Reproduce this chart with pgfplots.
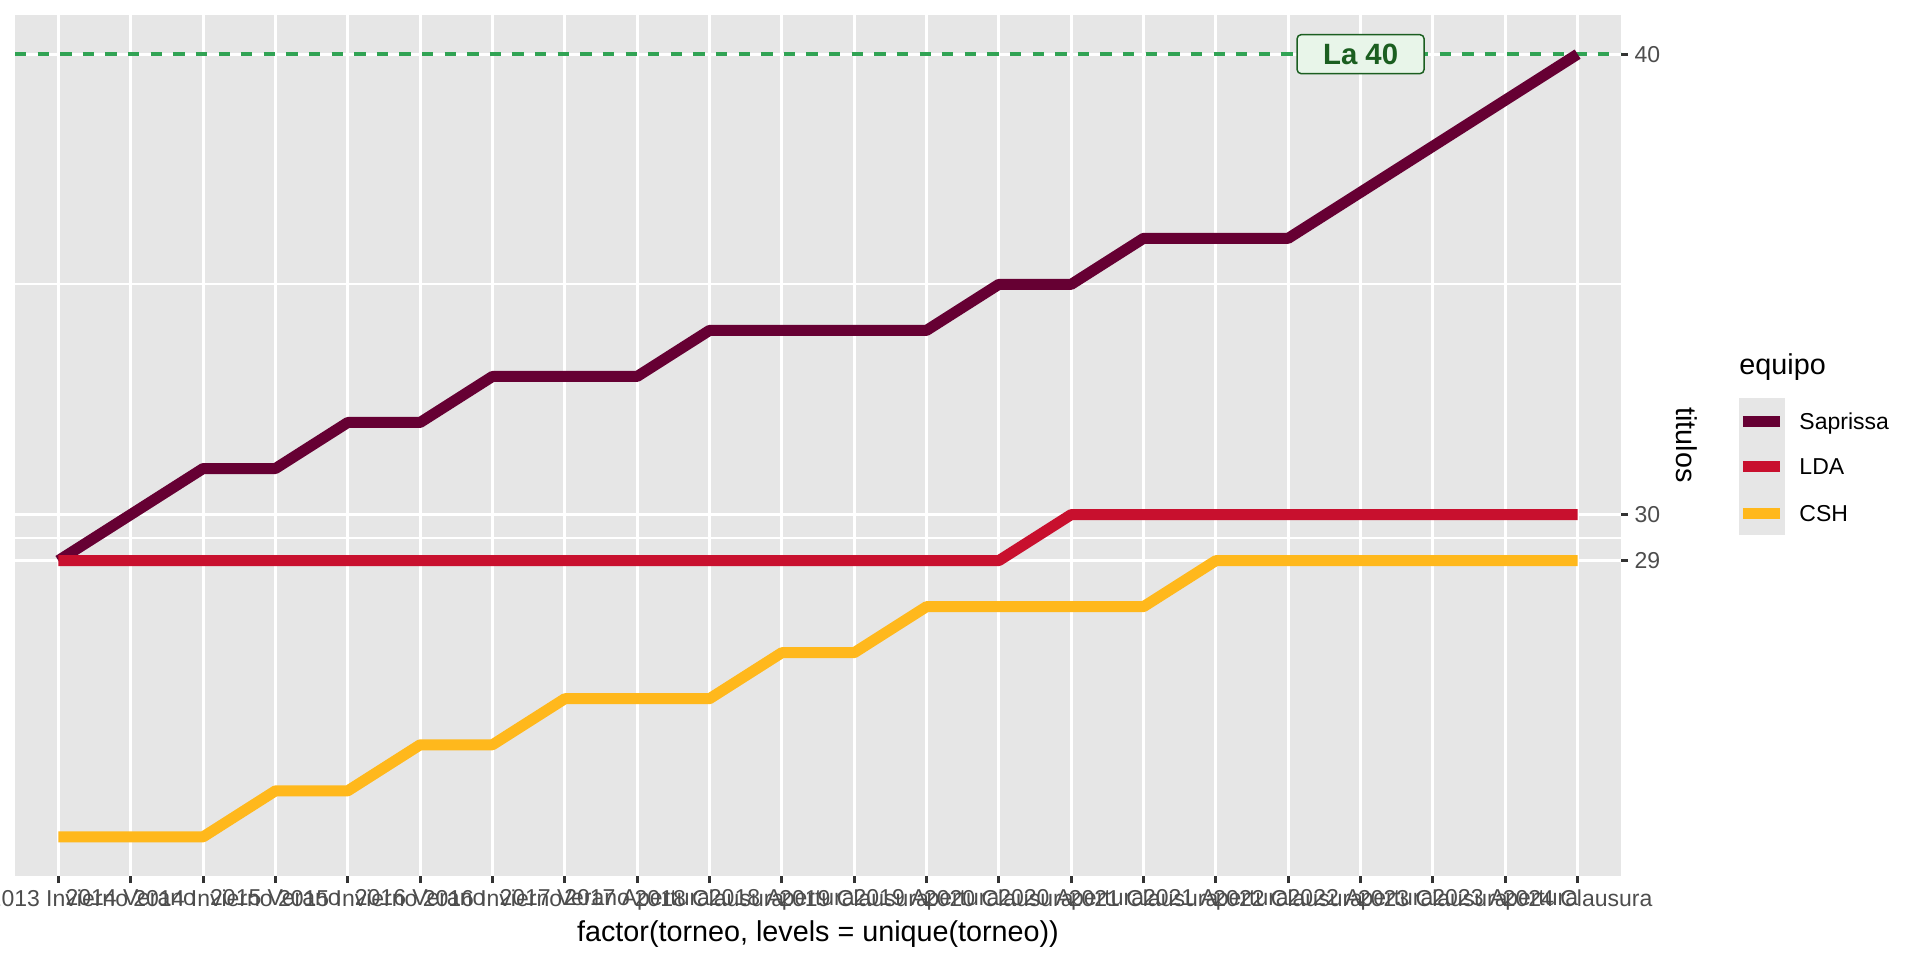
\documentclass[border=0pt]{standalone}
\usepackage{pgfplots}
\pgfplotsset{compat=1.18}
\usepackage{pgfplotstable}
\usepackage{fontspec}
\setmainfont{Liberation Sans}
\definecolor{sap}{HTML}{660033}
\definecolor{lda}{HTML}{C8102E}
\definecolor{csh}{HTML}{FFB81C}
\definecolor{panelbg}{HTML}{E6E6E6}
\definecolor{ticklab}{HTML}{4D4D4D}
\definecolor{tickcol}{HTML}{333333}
\definecolor{dashgreen}{HTML}{31A354}
\definecolor{labgreen}{HTML}{1B5E20}
\definecolor{labfill}{HTML}{E8F5E9}

\pgfplotstableread{
x sap lda csh
0 29 29 23
1 30 29 23
2 31 29 23
3 31 29 24
4 32 29 24
5 32 29 25
6 33 29 25
7 33 29 26
8 33 29 26
9 34 29 26
10 34 29 27
11 34 29 27
12 34 29 28
13 35 29 28
14 35 30 28
15 36 30 28
16 36 30 29
17 36 30 29
18 37 30 29
19 38 30 29
20 39 30 29
21 40 30 29
}\datatable

\begin{document}
\begin{tikzpicture}
\begin{axis}[
  at={(5.625pt,31.5pt)}, anchor=south west,
  width=602.25pt, height=322.875pt, scale only axis,
  xmin=-0.6, xmax=21.6, ymin=22.15, ymax=40.85,
  axis background/.style={fill=panelbg},
  axis line style={draw=none},
  xtick={0,...,21},
  xticklabels={2013 Invierno,2014 Verano,2014 Invierno,2015 Verano,2015 Invierno,2016 Verano,2016 Invierno,2017 Verano,2017 Apertura,2018 Clausura,2018 Apertura,2019 Clausura,2019 Apertura,2020 Clausura,2020 Apertura,2021 Clausura,2021 Apertura,2022 Clausura,2022 Apertura,2023 Clausura,2023 Apertura,2024 Clausura},
  ytick={29,30,40}, yticklabels={29,30,40},
  minor ytick={29.5,35},
  xmajorgrids, ymajorgrids, yminorgrids,
  major grid style={white, line width=1.1pt},
  minor grid style={white, line width=0.7pt},
  tick align=outside,
  major tick length=2.625pt,
  minor tick length=0pt,
  minor tick style={draw=none},
  xtick pos=left, ytick pos=right,
  xticklabel pos=left, yticklabel pos=right,
  tick style={tickcol, line width=1.1pt},
  xticklabel style={font=\fontsize{8.625}{9}\selectfont, text=ticklab, anchor=north, inner sep=0pt, yshift=-2.25pt},
  yticklabel style={font=\fontsize{8.625}{9}\selectfont, text=ticklab, anchor=west, inner sep=0pt, xshift=2.25pt},
]
\addplot[dashgreen, line width=1.25pt, dash pattern=on 4.24pt off 4.24pt] coordinates {(-0.6,40) (21.6,40)};
\addplot[sap, line width=4.125pt, line join=round] table[x=x,y=sap]{\datatable};
\addplot[lda, line width=4.125pt, line join=round] table[x=x,y=lda]{\datatable};
\addplot[csh, line width=4.125pt, line join=round] table[x=x,y=csh]{\datatable};
\node[fill=labfill, draw=labgreen, line width=0.55pt, rounded corners=1.5pt, minimum width=47.6pt, minimum height=14.6pt, inner sep=0pt, text=labgreen, font=\bfseries\fontsize{11}{12}\selectfont] at (axis cs:18,40) {La 40};
\end{axis}
% axis titles
\node[anchor=base, font=\fontsize{10.78}{12}\selectfont] at (306.75pt,7pt) {factor(torneo, levels = unique(torneo))};
\node[rotate=-90, font=\fontsize{10.78}{12}\selectfont, inner sep=0pt] at (632.6pt,193.1pt) {titulos};
% legend
\node[anchor=base west, inner sep=0pt, font=\fontsize{10.78}{12}\selectfont] at (652.1pt,219.75pt) {equipo};
\fill[panelbg] (652.1pt,159.375pt) rectangle (669.4pt,210.75pt);
\draw[sap, line width=4.125pt] (653.6pt,202.1pt) -- (667.5pt,202.1pt);
\draw[lda, line width=4.125pt] (653.6pt,184.9pt) -- (667.5pt,184.9pt);
\draw[csh, line width=4.125pt] (653.6pt,167.6pt) -- (667.5pt,167.6pt);
\node[anchor=base west, inner sep=0pt, font=\fontsize{8.625}{9}\selectfont] at (674.6pt,199.1pt) {Saprissa};
\node[anchor=base west, inner sep=0pt, font=\fontsize{8.625}{9}\selectfont] at (674.6pt,181.9pt) {LDA};
\node[anchor=base west, inner sep=0pt, font=\fontsize{8.625}{9}\selectfont] at (674.6pt,164.6pt) {CSH};
\pgfresetboundingbox
\path[use as bounding box] (0,0) rectangle (720pt,360pt);
\end{tikzpicture}
\end{document}
